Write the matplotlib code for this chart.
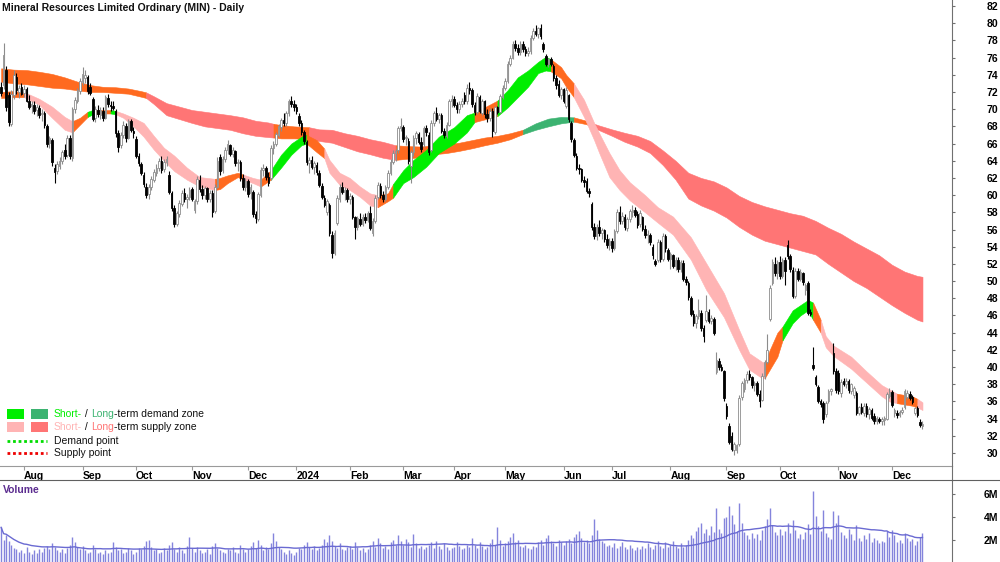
import numpy as np
import pandas as pd
import matplotlib
matplotlib.use('Agg')
import matplotlib.pyplot as plt
from matplotlib.lines import Line2D
from matplotlib.patches import Rectangle

W, H = 1000, 562

# ASX trading holidays inside the range
asx_holidays = ['2023-12-25', '2023-12-26', '2024-01-01', '2024-01-26',
                '2024-03-29', '2024-04-01', '2024-04-25', '2024-06-10']

# daily candles, 19 Jul 2023 -> 18 Dec 2024
opens = [
    72.6, 72.8, 74.6, 71.6, 68.3, 71.6, 73.8, 72.0, 72.6, 71.9,
    72.3, 70.9, 70.4, 70.5, 69.9, 70.1, 69.4, 69.5, 68.0, 66.1,
    66.4, 63.2, 62.8, 63.4, 64.0, 65.3, 64.7, 66.6, 64.3, 70.0,
    71.0, 72.1, 73.2, 73.6, 73.8, 72.6, 71.2, 69.0, 69.9, 69.3,
    69.8, 69.0, 71.3, 70.5, 70.4, 69.8, 67.2, 65.8, 67.0, 68.1,
    66.7, 68.6, 67.5, 66.5, 64.6, 63.6, 62.4, 61.0, 60.1, 61.0,
    61.8, 62.6, 63.1, 64.0, 63.0, 63.9, 62.4, 60.2, 58.5, 56.7,
    57.8, 59.0, 60.2, 59.5, 59.8, 60.7, 58.3, 59.3, 61.8, 60.7,
    60.0, 60.8, 59.5, 60.3, 58.1, 61.0, 64.4, 62.9, 64.2, 65.2,
    65.8, 64.8, 65.1, 63.7, 63.9, 62.0, 61.0, 61.6, 60.2, 60.4,
    57.8, 57.2, 60.0, 62.9, 63.1, 62.1, 62.0, 65.5, 66.0, 67.0,
    67.9, 68.7, 68.4, 69.5, 70.9, 70.6, 70.2, 69.2, 68.4, 67.3,
    66.2, 63.7, 64.1, 63.3, 63.5, 62.6, 61.1, 59.7, 58.0, 58.8,
    55.4, 53.3, 56.8, 59.6, 60.9, 60.4, 60.6, 59.5, 59.8, 57.4,
    56.3, 57.2, 56.7, 57.4, 57.1, 57.9, 55.6, 57.0, 59.8, 61.1,
    60.0, 59.6, 60.9, 62.6, 63.9, 64.9, 65.2, 67.8, 67.9, 66.6,
    66.3, 63.4, 65.0, 66.7, 67.1, 66.2, 65.9, 67.8, 67.0, 65.3,
    68.4, 69.5, 68.9, 69.3, 67.5, 66.9, 68.2, 70.9, 71.2, 70.5,
    70.0, 70.6, 71.6, 70.9, 72.5, 72.2, 70.5, 69.7, 71.4, 69.6,
    70.9, 69.4, 69.0, 69.8, 67.4, 70.2, 69.7, 71.4, 72.5, 73.3,
    75.3, 76.0, 77.6, 77.1, 76.6, 77.6, 77.0, 76.5, 76.8, 78.3,
    79.1, 78.8, 79.5, 77.6, 76.2, 75.2, 75.8, 75.0, 73.6, 72.9,
    71.7, 72.3, 70.4, 71.6, 68.4, 66.4, 64.6, 63.2, 63.0, 61.8,
    61.7, 60.5, 59.0, 56.3, 55.2, 56.3, 55.6, 55.9, 54.9, 54.2,
    54.7, 53.8, 55.8, 58.0, 57.0, 57.5, 56.2, 57.2, 58.0, 58.3,
    57.8, 56.6, 57.4, 56.1, 55.4, 55.4, 54.0, 52.3, 52.4, 54.6,
    52.6, 55.2, 53.6, 52.6, 53.0, 51.8, 52.5, 51.4, 52.1, 50.3,
    49.8, 48.0, 46.2, 45.1, 45.9, 46.3, 44.6, 45.5, 46.4, 45.4,
    45.6, 39.4, 40.7, 40.0, 39.5, 35.5, 33.2, 32.0, 30.3, 30.3,
    31.0, 36.5, 37.4, 38.5, 39.2, 38.8, 37.9, 38.2, 36.9, 36.2,
    39.0, 40.6, 45.6, 49.8, 52.0, 50.9, 52.2, 50.6, 52.4, 54.2,
    52.9, 51.3, 48.3, 51.2, 50.3, 50.9, 49.0, 49.8, 46.4, 40.2,
    38.9, 37.7, 36.0, 35.8, 34.5, 36.0, 37.2, 41.6, 39.5, 39.3,
    37.0, 38.4, 38.0, 38.4, 37.2, 36.7, 37.0, 34.7, 35.3, 34.6,
    35.5, 34.5, 35.0, 34.3, 33.7, 34.0, 33.7, 33.8, 34.0, 36.6,
    37.1, 34.7, 34.6, 34.4, 34.8, 35.3, 36.5, 36.9, 36.5, 34.6,
    35.2, 33.6, 33.1,
]
highs = [
    73.2, 77.7, 75.0, 72.0, 72.2, 74.6, 74.2, 72.8, 73.1, 72.8,
    72.6, 71.6, 71.0, 70.9, 70.6, 70.5, 70.0, 69.8, 68.3, 66.9,
    66.6, 63.6, 64.0, 64.4, 65.3, 66.0, 67.0, 67.0, 70.3, 71.4,
    72.5, 73.6, 74.9, 74.5, 74.0, 73.0, 71.4, 70.4, 70.5, 70.2,
    70.3, 71.7, 71.8, 71.0, 70.9, 70.0, 67.6, 67.4, 68.6, 68.4,
    68.9, 68.9, 67.9, 66.9, 64.9, 63.9, 62.7, 61.4, 61.3, 62.2,
    63.0, 63.6, 64.3, 64.5, 64.2, 64.6, 62.8, 60.5, 58.8, 58.2,
    59.4, 60.6, 60.8, 60.1, 61.0, 61.0, 59.6, 62.2, 62.3, 61.2,
    61.1, 61.0, 60.6, 60.6, 61.3, 64.4, 64.8, 64.5, 65.6, 66.4,
    66.0, 65.6, 65.3, 64.2, 64.1, 62.5, 62.0, 61.9, 61.3, 60.6,
    58.1, 60.4, 63.3, 63.6, 63.4, 62.7, 65.8, 66.3, 67.4, 68.3,
    69.0, 69.6, 69.8, 71.2, 71.5, 71.1, 70.6, 69.6, 68.7, 67.6,
    66.4, 64.4, 64.5, 64.0, 63.8, 62.9, 61.4, 60.0, 59.6, 59.1,
    55.8, 55.9, 60.0, 61.3, 61.5, 60.9, 60.8, 60.2, 60.0, 57.6,
    57.6, 57.9, 57.8, 57.9, 58.2, 58.7, 57.3, 60.0, 61.5, 61.4,
    60.5, 61.2, 62.9, 64.2, 65.2, 65.4, 68.1, 69.0, 68.2, 67.0,
    66.6, 65.3, 67.0, 67.5, 67.4, 66.8, 68.1, 68.2, 67.3, 68.7,
    69.8, 70.2, 69.6, 69.5, 67.8, 68.5, 71.2, 71.6, 71.5, 70.8,
    70.9, 71.3, 72.0, 72.9, 73.2, 72.5, 70.8, 71.9, 71.7, 71.2,
    71.1, 70.0, 70.1, 70.1, 70.4, 70.4, 71.8, 72.8, 73.6, 75.6,
    76.3, 77.9, 78.1, 77.6, 77.9, 77.9, 77.3, 77.2, 78.6, 79.4,
    79.8, 79.6, 79.9, 77.8, 76.4, 76.0, 76.1, 75.2, 74.0, 73.4,
    72.6, 72.5, 72.6, 71.8, 68.6, 66.7, 64.9, 63.6, 63.2, 62.2,
    62.0, 60.8, 59.2, 56.8, 56.6, 57.1, 56.2, 56.1, 55.5, 55.0,
    55.0, 56.1, 58.4, 58.7, 58.0, 57.8, 57.4, 58.4, 58.9, 58.6,
    58.2, 58.3, 57.6, 56.5, 55.9, 55.6, 54.3, 52.6, 54.9, 54.8,
    55.6, 55.5, 53.9, 53.4, 53.2, 52.8, 52.8, 52.5, 52.4, 50.6,
    50.0, 48.3, 46.6, 46.2, 47.9, 46.6, 44.9, 48.4, 46.7, 46.0,
    45.8, 41.7, 41.0, 40.3, 39.7, 35.8, 33.5, 32.4, 31.3, 31.1,
    36.8, 38.4, 38.7, 39.5, 39.6, 39.0, 38.4, 38.4, 37.3, 39.3,
    40.8, 43.9, 49.5, 52.6, 52.8, 52.4, 52.9, 52.7, 52.8, 54.8,
    53.2, 51.6, 51.5, 51.5, 51.4, 51.1, 49.8, 50.0, 46.7, 42.3,
    39.1, 37.9, 36.3, 36.0, 36.0, 37.4, 37.6, 42.8, 39.9, 39.6,
    38.6, 38.7, 38.7, 38.6, 38.2, 37.8, 37.2, 35.5, 35.8, 35.8,
    35.8, 35.4, 35.2, 34.7, 34.3, 34.2, 34.2, 34.3, 37.1, 37.6,
    37.3, 35.2, 35.0, 35.0, 35.3, 37.5, 37.3, 37.2, 36.7, 35.4,
    35.5, 33.9, 33.7,
]
lows = [
    71.5, 72.3, 69.8, 68.0, 68.0, 71.2, 71.8, 71.3, 71.6, 71.4,
    70.8, 70.0, 69.6, 69.4, 69.2, 69.0, 68.6, 67.8, 65.6, 65.5,
    63.4, 61.4, 62.5, 63.0, 63.6, 64.2, 64.4, 64.2, 64.0, 69.6,
    70.7, 71.8, 72.8, 73.0, 71.8, 71.6, 68.6, 68.5, 69.1, 68.8,
    68.6, 68.8, 70.3, 69.8, 69.9, 66.8, 65.0, 65.5, 66.7, 66.2,
    66.5, 67.3, 66.6, 64.3, 63.4, 62.3, 61.0, 59.7, 59.6, 60.6,
    61.5, 62.2, 62.8, 62.6, 62.7, 63.4, 60.1, 58.2, 56.3, 56.4,
    57.5, 58.7, 59.2, 58.5, 59.4, 59.3, 57.9, 59.0, 60.4, 59.6,
    59.6, 59.2, 59.2, 57.5, 57.9, 60.8, 62.4, 62.6, 63.9, 64.8,
    64.5, 64.4, 63.4, 62.8, 61.7, 60.6, 60.5, 59.8, 59.6, 57.4,
    56.8, 57.0, 59.8, 62.2, 61.8, 61.1, 61.8, 64.8, 65.7, 66.8,
    67.5, 68.0, 68.1, 69.2, 70.2, 69.8, 69.4, 68.0, 67.0, 65.9,
    63.5, 62.6, 63.0, 62.5, 62.4, 60.9, 59.6, 58.6, 57.7, 55.2,
    52.7, 53.0, 56.5, 59.2, 60.1, 59.4, 59.2, 59.0, 57.2, 54.9,
    56.0, 56.4, 56.4, 56.8, 56.9, 55.9, 55.2, 56.8, 59.5, 59.7,
    59.2, 59.3, 60.7, 62.3, 63.6, 64.0, 64.9, 67.5, 66.2, 65.8,
    63.6, 61.4, 64.6, 66.0, 65.9, 65.0, 65.6, 66.9, 64.7, 65.0,
    68.0, 68.6, 68.4, 67.2, 66.6, 66.6, 68.0, 70.3, 70.2, 69.6,
    69.6, 70.2, 70.6, 70.6, 71.8, 70.3, 69.3, 69.4, 69.5, 69.3,
    69.0, 68.5, 68.6, 66.8, 67.1, 69.4, 69.5, 71.2, 72.2, 73.1,
    75.0, 75.8, 76.8, 76.3, 76.3, 76.7, 76.2, 76.2, 76.4, 78.0,
    78.5, 78.3, 78.2, 76.7, 75.0, 74.9, 75.0, 73.3, 72.4, 71.4,
    71.2, 70.7, 70.1, 68.5, 66.2, 64.4, 62.9, 62.5, 61.5, 61.0,
    60.3, 59.8, 56.0, 54.9, 54.8, 55.3, 54.9, 54.6, 53.8, 53.6,
    53.4, 53.6, 55.6, 56.6, 56.6, 56.0, 55.8, 56.9, 57.5, 57.4,
    56.2, 56.3, 55.8, 55.0, 54.4, 54.2, 52.6, 51.7, 52.2, 52.2,
    52.3, 53.4, 52.3, 51.4, 51.5, 51.3, 51.1, 51.0, 50.0, 49.6,
    47.8, 45.9, 44.8, 44.6, 45.6, 44.2, 42.9, 45.2, 45.1, 45.0,
    43.7, 39.2, 39.7, 39.5, 36.1, 34.0, 31.0, 30.2, 29.8, 30.0,
    30.8, 36.2, 37.1, 38.1, 38.5, 37.6, 37.2, 36.6, 35.4, 36.0,
    38.6, 40.3, 45.3, 49.5, 50.6, 50.3, 50.2, 50.4, 49.6, 52.6,
    51.1, 48.0, 48.0, 50.0, 50.0, 49.6, 48.4, 46.0, 45.9, 39.6,
    37.8, 35.8, 35.4, 33.5, 34.2, 35.8, 36.8, 39.2, 37.0, 36.9,
    36.5, 37.8, 37.6, 37.0, 36.9, 36.4, 34.4, 34.4, 34.5, 34.3,
    34.2, 34.0, 33.8, 33.4, 33.4, 33.5, 33.3, 33.3, 33.8, 36.4,
    35.3, 34.2, 34.1, 34.2, 34.5, 35.1, 36.3, 36.2, 35.7, 34.4,
    34.2, 33.0, 32.8,
]
closes = [
    71.9, 76.3, 70.2, 68.5, 71.8, 74.0, 72.2, 72.5, 71.8, 72.4,
    71.0, 70.3, 70.6, 69.8, 70.2, 69.3, 69.6, 68.2, 66.0, 66.6,
    63.8, 62.7, 63.6, 64.0, 65.0, 64.6, 66.7, 64.5, 70.0, 71.1,
    72.2, 73.3, 74.1, 74.0, 72.1, 71.9, 68.9, 70.0, 69.4, 69.9,
    69.0, 71.4, 70.6, 70.4, 70.1, 67.2, 65.6, 67.0, 68.2, 66.6,
    68.6, 67.6, 67.2, 64.6, 63.7, 62.6, 61.3, 60.0, 61.0, 61.9,
    62.7, 63.2, 64.0, 62.9, 63.9, 64.2, 60.4, 58.5, 56.6, 57.9,
    59.1, 60.3, 59.5, 59.8, 60.6, 59.6, 59.3, 61.9, 60.7, 60.0,
    60.8, 59.5, 60.3, 58.0, 61.0, 64.0, 62.8, 64.2, 65.3, 65.9,
    64.8, 65.3, 63.7, 63.9, 62.0, 61.0, 61.7, 60.1, 60.9, 57.8,
    57.3, 60.1, 62.9, 63.2, 62.1, 61.4, 65.5, 66.0, 67.1, 68.0,
    68.7, 68.4, 69.5, 70.9, 70.6, 70.2, 69.8, 68.4, 67.3, 66.3,
    63.8, 64.1, 63.3, 63.7, 62.7, 61.2, 59.8, 58.9, 59.3, 55.6,
    53.3, 55.6, 59.7, 61.0, 60.4, 60.6, 59.5, 59.9, 57.5, 56.3,
    57.3, 56.7, 57.5, 57.1, 57.9, 56.2, 57.0, 59.7, 61.2, 60.0,
    59.6, 60.9, 62.6, 63.9, 64.9, 65.1, 67.8, 68.0, 66.5, 66.8,
    64.0, 65.0, 66.7, 67.2, 66.2, 65.4, 67.8, 67.3, 65.0, 68.4,
    69.5, 68.9, 69.3, 67.5, 67.0, 68.2, 70.9, 71.2, 70.5, 70.0,
    70.6, 71.0, 70.9, 72.5, 72.2, 70.6, 69.7, 71.5, 69.8, 70.9,
    69.4, 69.0, 69.8, 67.5, 70.2, 69.7, 71.5, 72.5, 73.3, 75.3,
    76.0, 77.6, 77.1, 76.7, 77.6, 77.0, 76.5, 76.8, 78.3, 79.1,
    78.8, 79.4, 78.5, 77.0, 75.2, 75.8, 75.3, 73.6, 72.8, 71.7,
    72.3, 71.0, 72.2, 68.8, 66.5, 64.7, 63.2, 63.0, 61.8, 61.5,
    60.5, 60.2, 56.3, 55.2, 56.3, 55.6, 55.9, 54.9, 54.2, 54.7,
    53.8, 55.8, 58.0, 57.0, 57.6, 56.3, 57.2, 58.1, 58.3, 57.7,
    56.5, 57.9, 56.1, 55.4, 55.5, 54.6, 53.0, 52.0, 54.6, 52.6,
    55.2, 53.8, 52.6, 53.1, 51.8, 52.5, 51.4, 52.2, 50.3, 49.9,
    48.1, 46.2, 45.1, 45.9, 46.6, 44.6, 43.6, 46.5, 45.4, 45.7,
    44.0, 40.8, 40.0, 39.7, 36.4, 34.3, 31.3, 30.5, 31.0, 30.9,
    36.4, 38.1, 38.5, 39.2, 38.8, 37.9, 38.2, 36.9, 36.1, 39.0,
    40.6, 42.0, 49.2, 52.2, 50.9, 52.2, 50.6, 52.4, 51.2, 52.9,
    51.4, 48.3, 51.2, 50.3, 51.0, 49.9, 49.5, 46.3, 46.2, 39.9,
    38.0, 36.0, 35.7, 33.9, 35.8, 37.2, 37.4, 39.5, 37.3, 37.2,
    38.3, 38.0, 38.4, 37.3, 38.0, 37.6, 34.7, 35.3, 34.8, 35.5,
    34.5, 35.1, 34.1, 33.7, 34.1, 33.7, 33.9, 34.1, 36.9, 37.1,
    35.6, 35.0, 34.4, 34.8, 35.0, 37.2, 37.0, 36.4, 35.9, 35.2,
    34.4, 33.3, 33.4,
]

# daily volume, millions of shares
volume_m = [
    3.1, 2.0, 2.4, 1.9, 1.6, 1.3, 1.2, 1.0, 1.1,                                  # Jul 23
    0.9, 1.4, 1.0, 0.8, 1.1, 0.9, 1.2, 1.0, 1.3, 1.5, 1.2, 1.7, 1.4, 1.1, 1.0,
    1.2, 0.9, 1.3, 1.6, 2.3, 1.8, 1.4, 1.2,                                       # Aug
    1.5, 1.1, 0.9, 1.0, 1.6, 1.2, 0.9, 1.0, 0.8, 1.1, 0.9, 1.0, 1.8, 1.4, 1.1,
    1.2, 0.9, 1.0, 1.3, 1.1, 0.8,                                                 # Sep
    1.0, 1.3, 1.2, 1.5, 1.9, 2.0, 1.4, 1.1, 1.2, 0.9, 1.0, 1.3, 1.1, 1.6, 1.8,
    1.2, 1.0, 1.4, 1.1, 0.9, 1.5, 2.3,                                            # Oct
    1.3, 1.0, 1.4, 1.1, 0.9, 1.0, 1.2, 0.8, 1.5, 1.7, 1.3, 1.1, 1.0, 0.9, 1.2,
    1.1, 1.4, 1.0, 0.9, 1.6, 1.2, 1.0,                                            # Nov
    1.2, 1.5, 1.8, 1.3, 2.0, 1.6, 1.1, 1.4, 1.2, 1.7, 2.6, 1.9, 1.4, 1.2, 1.0,
    0.8, 1.1, 0.9, 0.7,                                                           # Dec
    1.0, 1.3, 1.2, 1.6, 1.8, 1.4, 1.2, 1.5, 1.1, 1.3, 1.6, 2.1, 1.8, 2.4, 1.9,
    1.5, 1.3, 1.7, 1.2, 1.1, 1.4,                                                 # Jan 24
    1.5, 1.2, 1.8, 1.4, 1.1, 1.3, 1.0, 1.2, 1.6, 1.9, 1.4, 2.2, 1.7, 1.3, 1.5,
    1.2, 1.8, 2.0, 1.6, 2.4, 1.9,                                                 # Feb
    1.6, 2.1, 1.8, 1.4, 2.5, 1.7, 1.3, 1.5, 1.2, 1.4, 1.6, 1.8, 1.3, 1.9, 1.5,
    1.2, 1.7, 1.4, 1.1, 1.3,                                                      # Mar
    1.4, 1.8, 1.5, 1.2, 1.3, 1.6, 1.4, 2.2, 1.6, 1.3, 1.8, 1.5, 1.2, 1.4, 1.7,
    2.1, 1.6, 3.1, 2.0, 1.5,                                                      # Apr
    1.7, 1.9, 2.3, 2.6, 1.8, 2.0, 1.5, 1.4, 1.6, 1.3, 1.2, 1.5, 1.4, 1.8, 2.0,
    1.6, 2.2, 2.4, 1.9, 1.7, 1.5, 2.0, 1.8,                                       # May
    1.6, 1.9, 2.1, 1.7, 2.3, 2.5, 2.8, 2.2, 1.8, 2.0, 1.7, 2.4, 3.8, 2.9, 2.1,
    1.9, 1.7, 1.5, 1.6,                                                           # Jun
    1.4, 1.7, 1.3, 1.5, 1.8, 1.4, 1.2, 1.6, 1.3, 1.1, 1.4, 1.2, 1.5, 1.3, 1.7,
    1.4, 1.2, 1.6, 1.9, 1.5, 1.3, 1.8, 1.4,                                       # Jul
    1.6, 1.9, 1.5, 1.3, 1.7, 1.4, 1.6, 2.0, 2.4, 2.2, 2.8, 3.1, 3.5, 2.6, 3.0,
    2.4, 3.2, 2.7, 4.8, 3.0, 2.6, 3.9,                                            # Aug
    4.0, 5.0, 4.2, 3.4, 2.8, 5.2, 3.5, 2.7, 2.4, 2.1, 2.6, 2.2, 2.5, 2.0, 2.9,
    3.2, 3.8, 4.8, 3.3, 2.7, 2.4,                                                 # Sep
    3.0, 2.4, 2.8, 3.5, 2.6, 3.7, 2.9, 2.2, 2.5, 2.1, 2.7, 3.4, 2.5, 6.3, 4.1,
    3.2, 2.8, 4.6, 2.6, 2.3, 2.1, 4.5, 3.5,                                       # Oct
    4.2, 2.7, 2.4, 2.2, 3.0, 2.5, 2.0, 3.3, 2.2, 1.9, 2.4, 2.1, 2.6, 1.8, 2.2,
    2.0, 1.7, 1.9, 1.8, 2.8, 2.3,                                                 # Nov
    2.9, 2.4, 1.8, 2.0, 1.7, 2.6, 2.2, 1.9, 2.1, 1.6, 1.9, 2.3, 2.6,              # Dec
]

# trend zones read at sample days: upper edge, lower edge, state of the stretch that follows
short_idx = [0, 5, 9, 15, 20, 25, 28, 31, 34, 36,
             40, 43, 45, 48, 52, 56, 60, 64, 68, 73,
             78, 84, 86, 89, 93, 95, 99, 102, 106, 110,
             114, 118, 120, 124, 127, 129, 133, 137, 141, 145,
             148, 152, 154, 158, 162, 167, 172, 178, 183, 186,
             195, 199, 203, 207, 211, 214, 216, 220, 222, 225,
             229, 233, 235, 239, 243, 247, 253, 258, 264, 271,
             277, 284, 290, 294, 299, 300, 302, 305, 307, 311,
             314, 317, 319, 322, 324, 327, 334, 340, 346, 349,
             352, 358, 360, 362]
short_top = [72.0, 72.1, 72.0, 71.2, 70.3, 69.1, 68.6, 69.0, 69.7, 69.9,
             69.9, 69.9, 69.8, 69.5, 69.0, 68.4, 66.9, 65.5, 64.6, 63.2,
             62.1, 61.9, 62.0, 62.3, 62.6, 62.4, 62.0, 61.8, 62.9, 64.7,
             66.0, 66.8, 67.0, 66.4, 65.4, 64.1, 62.6, 62.0, 61.0, 60.2,
             60.0, 60.2, 61.3, 62.9, 64.1, 65.25, 66.8, 67.9, 69.3, 69.6,
             71.0, 72.2, 73.7, 74.5, 75.5, 76.1, 75.8, 74.9, 74.0, 73.0,
             71.1, 68.4, 67.2, 64.9, 62.9, 61.5, 60.0, 58.6, 57.5, 55.1,
             52.1, 48.6, 44.3, 41.6, 40.6, 40.5, 42.0, 44.0, 44.7, 46.6,
             47.2, 47.8, 47.5, 45.5, 43.6, 42.5, 41.2, 39.5, 37.9, 37.4,
             36.9, 36.6, 36.3, 35.9]
short_bot = [71.3, 71.4, 71.4, 70.5, 69.0, 67.6, 67.3, 68.2, 69.1, 69.4,
             69.5, 69.5, 69.4, 69.0, 68.0, 66.8, 65.3, 64.0, 62.8, 61.8,
             61.0, 60.6, 60.7, 61.4, 62.1, 61.8, 61.4, 61.0, 61.8, 63.2,
             64.7, 65.8, 66.0, 65.0, 64.3, 62.6, 61.2, 60.6, 59.8, 58.8,
             58.6, 59.3, 59.7, 61.4, 62.1, 63.3, 64.9, 66.0, 67.3, 68.5,
             69.2, 70.2, 71.4, 72.6, 74.2, 74.5, 74.4, 73.6, 72.6, 71.4,
             69.1, 66.4, 64.9, 62.1, 60.6, 59.4, 58.0, 56.8, 55.4, 52.5,
             49.0, 45.8, 42.0, 39.7, 38.7, 38.7, 39.7, 41.2, 43.1, 45.1,
             46.0, 46.6, 45.5, 44.0, 42.3, 41.3, 39.8, 38.2, 36.6, 36.0,
             35.8, 35.5, 35.3, 35.0]
short_state = list('OOPPPPOOGO' 'OGPPPPPPPP' 'POOOOPPOGG' 'GGOOPPPPPP'
                   'OOGGGGGGGO' 'GGGGGGOOOP' 'PPPPPPPPPP' 'PPPPPOOOGG'
                   'GGOPPPPPPP' 'OOPP')

long_idx = [0, 5, 10, 15, 20, 25, 30, 35, 40, 45,
            50, 55, 57, 60, 65, 70, 75, 80, 85, 90,
            95, 100, 105, 107, 110, 115, 121, 125, 130, 135,
            140, 145, 150, 155, 160, 165, 170, 175, 180, 185,
            190, 195, 200, 205, 210, 215, 220, 225, 230, 233,
            235, 240, 245, 250, 255, 260, 265, 270, 275, 280,
            285, 290, 295, 300, 305, 310, 315, 320, 325, 330,
            335, 340, 345, 350, 355, 360, 362]
long_top = [74.75, 74.6, 74.55, 74.35, 74.1, 73.7, 73.2, 72.8, 72.6, 72.55,
            72.4, 72.1, 71.95, 71.5, 70.7, 70.3, 69.9, 69.7, 69.5, 69.3,
            69.05, 68.65, 68.45, 68.3, 68.15, 68.0, 67.9, 67.65, 67.6, 67.2,
            66.9, 66.5, 66.2, 65.8, 65.7, 65.65, 65.8, 65.95, 66.1, 66.4,
            66.7, 66.9, 67.2, 67.6, 68.35, 68.9, 69.1, 69.05, 68.65, 68.3,
            68.1, 67.65, 67.25, 66.9, 66.3, 65.2, 64.0, 62.6, 62.0, 61.6,
            60.9, 59.9, 59.2, 58.7, 58.3, 57.9, 57.6, 57.0, 56.2, 55.5,
            54.6, 53.8, 53.0, 51.9, 51.1, 50.6, 50.5]
long_bot = [73.2, 73.0, 72.9, 72.7, 72.5, 72.4, 72.2, 72.0, 72.0, 71.9,
            71.8, 71.45, 71.3, 70.6, 69.3, 68.85, 68.4, 68.0, 67.8, 67.6,
            67.2, 66.9, 66.75, 66.7, 66.6, 66.6, 66.55, 66.3, 66.1, 65.6,
            65.1, 64.75, 64.35, 64.1, 64.25, 64.45, 64.75, 64.9, 65.15, 65.45,
            65.8, 66.1, 66.5, 67.1, 67.6, 68.0, 68.35, 68.55, 68.25, 67.8,
            67.55, 66.9, 66.2, 65.65, 64.9, 63.5, 61.8, 59.6, 58.8, 58.2,
            57.4, 56.3, 55.4, 54.7, 54.3, 53.9, 53.5, 53.1, 52.0, 51.0,
            50.0, 49.2, 48.2, 47.2, 46.3, 45.5, 45.3]
long_state = list('OOOOOOOOOO' 'OOSSSSSSSS' 'SSSOOOSSSS' 'SSSOOOOOOO'
                  'OOODDDDOOS' 'SSSSSSSSSS' 'SSSSSSSSSS' 'SSSSSSS')

short_colors = {'G': '#00ee00', 'P': '#ffb4b4', 'O': '#ff6a1f'}
long_colors = {'D': '#3cb371', 'S': '#ff7575', 'O': '#ff6a1f'}

plt.rcParams['font.family'] = ['Liberation Sans', 'DejaVu Sans']
plt.rcParams['font.size'] = 7.5

dates = pd.bdate_range('2023-07-19', periods=len(closes), freq='C', holidays=asx_holidays)
months = dates.to_period('M')
tick_pos = [i for i in range(1, len(dates)) if months[i] != months[i - 1]]
tick_lab = [str(dates[i].year) if dates[i].month == 1 else dates[i].strftime('%b') for i in tick_pos]

x = np.arange(len(closes))
o = np.array(opens)
c = np.array(closes)
h = np.maximum(np.array(highs), np.maximum(o, c))
l = np.minimum(np.array(lows), np.minimum(o, c))
vol = np.array(volume_m) * 1e6
vol_ma = pd.Series(vol).rolling(30, min_periods=1).mean()

fig = plt.figure(figsize=(W / 100, H / 100), dpi=100)
ax = fig.add_axes([0, 1 - 466 / H, 952 / W, 466 / H])
axv = fig.add_axes([0, 0, 952 / W, 82 / H])
xlim = (-0.43, 373.6)


def draw_zone(idx, top, bot, state, colors):
    idx = np.asarray(idx, float)
    top = np.asarray(top)
    bot = np.asarray(bot)
    start = 0
    n = len(idx)
    for k in range(1, n):
        if state[k] != state[start] or k == n - 1:
            sl = slice(start, k + 1)
            col = colors[state[start]]
            ax.fill_between(idx[sl], bot[sl], top[sl], facecolor=col, edgecolor=col,
                            lw=0.4, zorder=1)
            start = k


draw_zone(long_idx, long_top, long_bot, long_state, long_colors)
draw_zone(short_idx, short_top, short_bot, short_state, short_colors)

up = c >= o
dn = ~up
ax.vlines(x[up], l[up], h[up], color='#8c8c8c', lw=0.8, zorder=3)
ax.vlines(x[dn], l[dn], h[dn], color='black', lw=0.8, zorder=3)
ax.bar(x[up], (c - o)[up], bottom=o[up], width=0.62, facecolor='white',
       edgecolor='#8c8c8c', lw=0.6, zorder=4)
ax.bar(x[dn], (o - c)[dn], bottom=c[dn], width=0.62, facecolor='black',
       edgecolor='black', lw=0.6, zorder=4)

ax.set_xlim(*xlim)
ax.set_ylim(28.49, 82.7)
for s in ('top', 'left'):
    ax.spines[s].set_visible(False)
ax.spines['bottom'].set_color('#9a9a9a')
ax.spines['right'].set_color('#707070')
ax.yaxis.tick_right()
yt = list(range(30, 83, 2))
ax.set_yticks(yt, [str(v) for v in yt], ha='right', fontweight='bold')
ax.tick_params(axis='y', length=2.5, width=0.8, color='#707070', pad=31)
ax.set_xticks(tick_pos, tick_lab, ha='left', fontweight='bold')
ax.tick_params(axis='x', length=3, width=0.8, color='#9a9a9a', pad=0.5)

axv.vlines(x, 0, vol, color='#8484dc', lw=1.0)
axv.plot(x, vol_ma, color='#6a6ad2', lw=1.0)
axv.set_xlim(*xlim)
axv.set_ylim(0.087e6, 7.22e6)
for s in ('bottom', 'left'):
    axv.spines[s].set_visible(False)
axv.spines['top'].set_color('#606060')
axv.spines['right'].set_color('#707070')
axv.set_xticks([])
axv.yaxis.tick_right()
axv.set_yticks([2e6, 4e6, 6e6], ['2M', '4M', '6M'], ha='right', fontweight='bold')
axv.tick_params(axis='y', length=2.5, width=0.8, color='#707070', pad=31)

# frame pieces between the panels
fig.add_artist(Line2D([952 / W, 952 / W], [1 - 480 / H, 1 - 466 / H],
                      transform=fig.transFigure, color='#707070', lw=0.8))
fig.add_artist(Line2D([952 / W, 1], [1 - 480 / H, 1 - 480 / H],
                      transform=fig.transFigure, color='#606060', lw=0.8))

fig.text(2 / W, 1 - 8 / H, 'Mineral Resources Limited Ordinary (MIN) - Daily',
         ha='left', va='center', fontweight='bold', color='#111111')
fig.text(3 / W, 1 - 490 / H, 'Volume', ha='left', va='center',
         fontweight='bold', color='#5b2c8f')

# legend
def px_rect(x0, y0, w, hh, col):
    fig.add_artist(Rectangle((x0 / W, 1 - (y0 + hh) / H), w / W, hh / H,
                             transform=fig.transFigure, facecolor=col, lw=0))


renderer = fig.canvas.get_renderer()


def colored_text(x_px, y_px, parts):
    xf = x_px / W
    for txt, col in parts:
        t = fig.text(xf, 1 - y_px / H, txt, color=col, ha='left', va='center')
        xf = t.get_window_extent(renderer).x1 / W


px_rect(7, 409, 17, 10, short_colors['G'])
px_rect(31, 409, 17, 10, long_colors['D'])
px_rect(7, 422, 17, 10, short_colors['P'])
px_rect(31, 422, 17, 10, long_colors['S'])
fig.add_artist(Line2D([7 / W, 47 / W], [1 - 441 / H] * 2, transform=fig.transFigure,
                      color='#00dd00', lw=2, ls=(0, (1, 1))))
fig.add_artist(Line2D([7 / W, 47 / W], [1 - 453 / H] * 2, transform=fig.transFigure,
                      color='#ee0000', lw=2, ls=(0, (1, 1))))
ink = '#111111'
colored_text(54, 414, [('Short-', short_colors['G']), (' / ', ink),
                       ('Long', long_colors['D']), ('-term demand zone', ink)])
colored_text(54, 427, [('Short-', short_colors['P']), (' / ', ink),
                       ('Long', long_colors['S']), ('-term supply zone', ink)])
colored_text(54, 441, [('Demand point', ink)])
colored_text(54, 453, [('Supply point', ink)])

fig.savefig('out.png', dpi=100)
